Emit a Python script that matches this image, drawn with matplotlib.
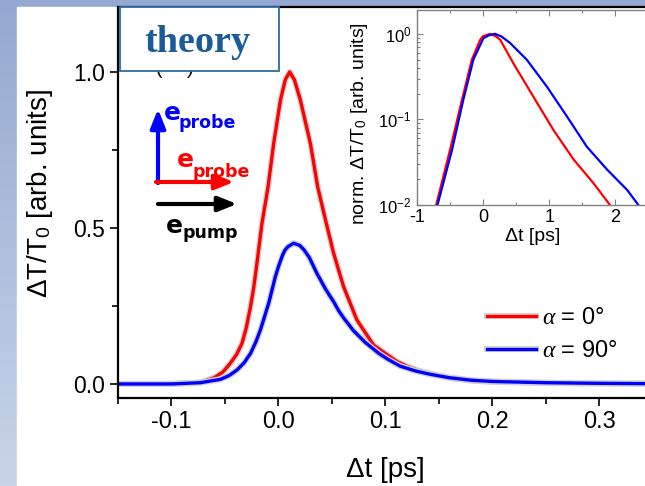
import numpy as np
import matplotlib
matplotlib.use("Agg")
import matplotlib.pyplot as plt
import matplotlib.patheffects as pe
from matplotlib.patches import Rectangle
from matplotlib.colors import LinearSegmentedColormap

plt.rcParams["font.family"] = ["Liberation Sans", "DejaVu Sans"]
plt.rcParams["mathtext.fontset"] = "custom"
plt.rcParams["mathtext.rm"] = "Liberation Sans"
plt.rcParams["mathtext.it"] = "Liberation Serif:italic"
plt.rcParams["mathtext.bf"] = "DejaVu Sans:bold"
plt.rcParams["axes.unicode_minus"] = False

# main panel: delay (ps) and dT/T0 (arb. units)
t_red = [-0.15, -0.10, -0.073, -0.060, -0.052, -0.045, -0.039, -0.034, -0.030,
         -0.026, -0.023, -0.020, -0.0153, -0.0096, -0.0044, 0.002, 0.0065,
         0.0106, 0.015, 0.0206, 0.030, 0.0368, 0.0445, 0.0517, 0.061, 0.0735,
         0.089, 0.100, 0.111, 0.120, 0.130, 0.142, 0.16, 0.18, 0.20, 0.25, 0.30, 0.345]
dT_red = [0.0, 0.0, 0.005, 0.02, 0.038, 0.066, 0.095, 0.13, 0.18,
          0.248, 0.31, 0.387, 0.515, 0.632, 0.77, 0.91, 0.975,
          1.0, 0.975, 0.91, 0.77, 0.632, 0.52, 0.419, 0.312, 0.205,
          0.125, 0.098, 0.072, 0.057, 0.044, 0.033, 0.020, 0.011, 0.007, 0.003, 0.002, 0.001]

t_blue = [-0.15, -0.10, -0.073, -0.054, -0.046, -0.0386, -0.032, -0.026, -0.021,
          -0.0168, -0.013, -0.009, -0.006, -0.0028, 0.0, 0.0034, 0.006, 0.009,
          0.0143, 0.020, 0.024, 0.029, 0.036, 0.040, 0.044, 0.052, 0.0564,
          0.061, 0.070, 0.081, 0.094, 0.103, 0.114, 0.128, 0.142, 0.16, 0.18, 0.20,
          0.25, 0.30, 0.345]
dT_blue = [0.0, 0.0, 0.004, 0.015, 0.027, 0.045, 0.068, 0.098, 0.135,
           0.173, 0.215, 0.259, 0.30, 0.344, 0.375, 0.408, 0.428, 0.440,
           0.451, 0.444, 0.430, 0.405, 0.355, 0.33, 0.305, 0.262, 0.235,
           0.212, 0.172, 0.134, 0.098, 0.078, 0.057, 0.042, 0.031, 0.020, 0.012, 0.008,
           0.004, 0.002, 0.001]

# inset: normalised, log scale
ti_red = [-0.71, -0.5, -0.32, -0.17, -0.045, 0.0, 0.106, 0.2, 0.26, 0.46, 0.76,
          1.066, 1.37, 1.67, 1.92]
ni_red = [0.01, 0.044, 0.169, 0.50, 0.85, 0.94, 1.0, 0.93, 0.85, 0.45, 0.185,
          0.075, 0.034, 0.018, 0.01]
ti_blue = [-0.69, -0.47, -0.30, -0.147, 0.005, 0.1, 0.18, 0.28, 0.41, 0.66, 0.965,
           1.27, 1.57, 1.875, 2.18, 2.35]
ni_blue = [0.01, 0.044, 0.169, 0.50, 0.89, 0.97, 1.0, 0.93, 0.78, 0.50, 0.242,
           0.108, 0.048, 0.026, 0.015, 0.01]

x_ticks = [-0.1, 0.0, 0.1, 0.2, 0.3]
x_labels = ["-0.1", "0.0", "0.1", "0.2", "0.3"]
y_ticks = [0.0, 0.5, 1.0]
y_labels = ["0.0", "0.5", "1.0"]
xi_ticks = [-1, 0, 1, 2]
yi_ticks = [0.01, 0.1, 1.0]
yi_labels = [r"$\mathregular{10^{-2}}$", r"$\mathregular{10^{-1}}$", r"$\mathregular{10^{0}}$"]

labels = [r"$\alpha$ = 0°", r"$\alpha$ = 90°"]

W, H = 645, 486
fig = plt.figure(figsize=(W / 100, H / 100), dpi=100)

# slide background
bg = fig.add_axes([0, 0, 1, 1], zorder=-10)
cmap = LinearSegmentedColormap.from_list("slide", ["#94a8d1", "#cad4e8"])
bg.imshow(np.linspace(0, 1, 256).reshape(-1, 1), aspect="auto", cmap=cmap,
          extent=[0, 1, 0, 1], origin="upper")
bg.axis("off")
fig.add_artist(Rectangle((17 / W, 0), 1 - 17 / W, (H - 7) / H,
                         transform=fig.transFigure, color="white", zorder=-5))

ax = fig.add_axes([118 / W, (H - 398) / H, (W - 118) / W, (398 - 7) / H])
ax.set_facecolor("none")
halo = [pe.Stroke(linewidth=4.4, foreground="#d2d2d2"), pe.Normal()]
ax.plot(t_red, dT_red, color="#ff0000", lw=2.4, path_effects=halo, label=labels[0])
ax.plot(t_blue, dT_blue, color="#0000ff", lw=2.4, path_effects=halo, label=labels[1])

ax.set_xlim(-0.15, 0.343)
ax.set_ylim(-0.045, 1.208)
ax.set_xticks(x_ticks)
ax.set_xticklabels(x_labels)
ax.set_xticks(np.arange(-0.15, 0.34, 0.1), minor=True)
ax.set_yticks(y_ticks)
ax.set_yticklabels(y_labels)
ax.set_yticks([0.25, 0.75], minor=True)
ax.tick_params(which="both", direction="out", width=1.2, color="black")
ax.tick_params(which="major", length=5.5)
ax.tick_params(which="minor", length=4)
ax.tick_params(axis="x", labelsize=17, pad=3.5)
ax.tick_params(axis="y", labelsize=16.5, pad=4)
ax.spines["right"].set_visible(False)
for s in ["left", "bottom", "top"]:
    ax.spines[s].set_linewidth(1.6)

ax.set_xlabel("Δt [ps]", fontsize=20)
ax.xaxis.set_label_coords(0.507, -0.150)
ax.set_ylabel(r"ΔT/T$_0$ [arb. units]", fontsize=20)
ax.yaxis.set_label_coords(-0.12, 0.524)

ax.legend(loc="upper left", bbox_to_anchor=(0.700, 0.232), frameon=False,
          fontsize=17, handlelength=2.1, handletextpad=0.25, labelspacing=0.45,
          borderpad=0, borderaxespad=0)

# inset
ins = fig.add_axes([417 / W, (H - 205) / H, (W - 417) / W, (205 - 10) / H])
ins.plot(ti_red, ni_red, color="#ff0000", lw=1.6)
ins.plot(ti_blue, ni_blue, color="#0000ff", lw=1.6)
ins.set_yscale("log")
ins.set_xlim(-1, 2.45)
ins.set_ylim(0.01, 1.9)
ins.set_xticks(xi_ticks)
ins.set_xticklabels([str(v) for v in xi_ticks])
ins.set_xticks([-0.5, 0.5, 1.5], minor=True)
ins.set_yticks(yi_ticks)
ins.set_yticklabels(yi_labels)
ins.tick_params(which="both", direction="in", top=True, color="#808080", width=0.8)
ins.tick_params(which="major", length=4)
ins.tick_params(which="minor", length=2.5)
ins.tick_params(axis="x", labelsize=13, pad=3)
ins.tick_params(axis="y", labelsize=12, pad=4)
ins.spines["right"].set_visible(False)
for s in ["left", "bottom", "top"]:
    ins.spines[s].set_color("#808080")
    ins.spines[s].set_linewidth(1.0)
ins.set_xlabel("Δt [ps]", fontsize=14)
ins.xaxis.set_label_coords(0.509, -0.12)
ins.set_ylabel(r"norm. ΔT/T$_0$ [arb. units]", fontsize=14)
ins.yaxis.set_label_coords(-0.205, 0.415)


def px(x, y):
    return (x, H - y)


# polarisation sketch
arrow = dict(arrowstyle="-|>,head_length=0.75,head_width=0.3", lw=3,
             mutation_scale=15, shrinkA=0, shrinkB=0)
ax.annotate("", xy=px(158, 109), xytext=px(158, 183), xycoords="figure pixels",
            arrowprops=dict(arrow, color="#0000ff"))
ax.annotate("", xy=px(234, 182), xytext=px(156, 182), xycoords="figure pixels",
            arrowprops=dict(arrow, color="#ff0000"))
ax.annotate("", xy=px(237, 204), xytext=px(158, 204), xycoords="figure pixels",
            arrowprops=dict(arrow, color="black"))

sketch = [("e", "probe", (164, 120), (179, 128), "#0000ff"),
          ("e", "probe", (177, 167), (192, 177), "#ff0000"),
          ("e", "pump", (166, 233), (182, 238), "black")]
for big, small, p1, p2, c in sketch:
    fig.text(*px(*p1), big, transform=None, fontsize=18, fontweight="bold",
             family="DejaVu Sans", color=c, ha="left", va="baseline")
    fig.text(*px(*p2), small, transform=None, fontsize=12.5, fontweight="bold",
             family="DejaVu Sans", color=c, ha="left", va="baseline")

# leftover panel letter brackets, mostly hidden by the box
fig.text(*px(156, 74), "(", transform=None, fontsize=14, ha="left", va="baseline", zorder=3)
fig.text(*px(187, 74), ")", transform=None, fontsize=14, ha="left", va="baseline", zorder=3)

fig.add_artist(Rectangle((120 / W, (H - 71) / H), 159 / W, 64 / H,
                         transform=fig.transFigure, facecolor="white",
                         edgecolor="#2b6ca3", lw=1.3, zorder=4))
fig.text(*px(197, 52), "theory", transform=None, fontsize=27.5, fontweight="bold",
         family="Liberation Serif", color="#1b5b96", ha="center", va="baseline", zorder=5)

fig.savefig("out.png", dpi=100)
